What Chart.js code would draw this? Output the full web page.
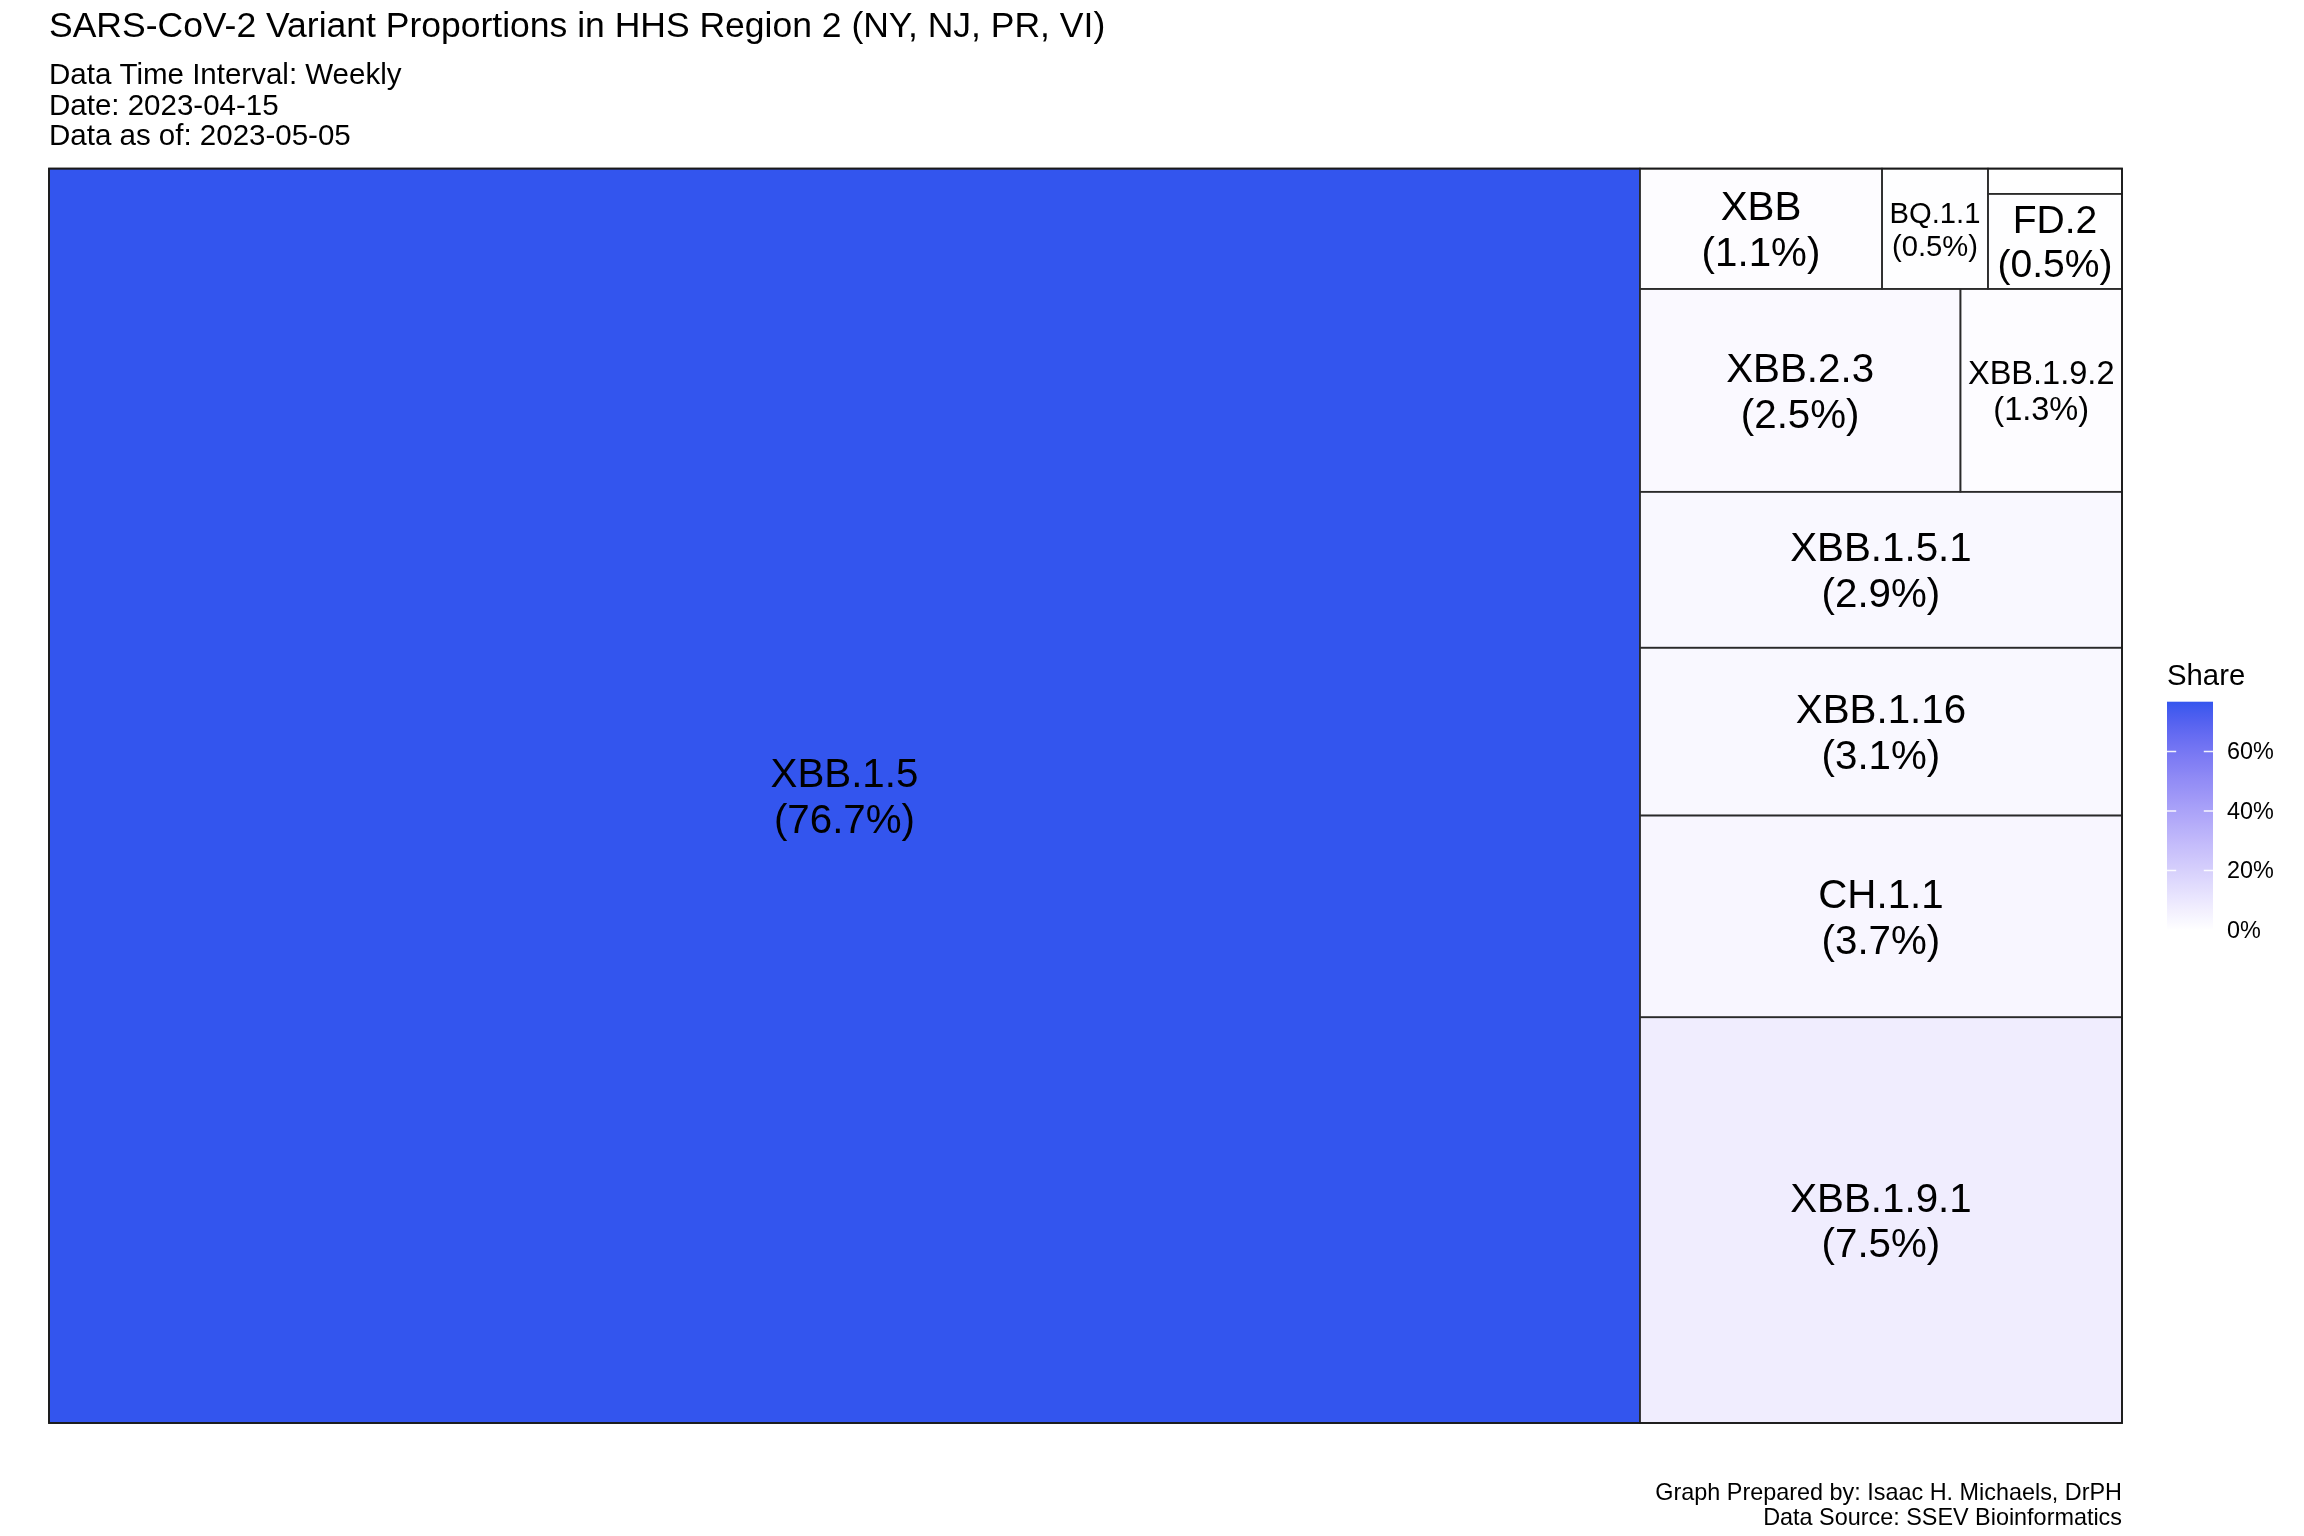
<!DOCTYPE html>
<html><head><meta charset="utf-8">
<script src="https://cdn.jsdelivr.net/npm/chart.js@4/dist/chart.umd.min.js"></script>
<style>html,body{margin:0;padding:0;background:#fff}canvas{display:block}</style>
</head><body>
<canvas id="c" width="2304" height="1536"></canvas>
<script>
// ---- data ----
const variants = ['XBB.1.5','XBB.1.9.1','CH.1.1','XBB.1.16','XBB.1.5.1','XBB.2.3','XBB.1.9.2','XBB','BQ.1.1','FD.2','Other'];
const shares   = [76.72, 7.52, 3.74, 3.11, 2.89, 2.50, 1.26, 1.12, 0.49, 0.49, 0.13];
const legendTicks = [0, 20, 40, 60];
const legendTitle = 'Share';
const titleText = 'SARS-CoV-2 Variant Proportions in HHS Region 2 (NY, NJ, PR, VI)';
const subtitleLines = ['Data Time Interval: Weekly', 'Date: 2023-04-15', 'Data as of: 2023-05-05'];
const captionLines = ['Graph Prepared by: Isaac H. Michaels, DrPH', 'Data Source: SSEV Bioinformatics'];
const LOW_COLOR = '#FFFFFF';
const HIGH_COLOR = '#3355EE';

const FONT = '"Liberation Sans", Arial, Helvetica, sans-serif';

// ---- colour (Lab interpolation, like ggplot2) ----
function hex2rgb(h){h=h.replace('#','');return [0,2,4].map(i=>parseInt(h.substr(i,2),16));}
function lin(c){c/=255;return c<=0.04045?c/12.92:Math.pow((c+0.055)/1.055,2.4);}
function unlin(c){const v=c<=0.0031308?12.92*c:1.055*Math.pow(c,1/2.4)-0.055;return Math.round(Math.max(0,Math.min(1,v))*255);}
const XN=0.95047,YN=1,ZN=1.08883;
function rgb2lab(rgb){const [R,G,B]=rgb.map(lin);
  const X=(0.4124564*R+0.3575761*G+0.1804375*B)/XN,Y=(0.2126729*R+0.7151522*G+0.0721750*B)/YN,Z=(0.0193339*R+0.1191920*G+0.9503041*B)/ZN;
  const f=t=>t>0.008856?Math.cbrt(t):7.787*t+16/116;
  const fx=f(X),fy=f(Y),fz=f(Z);return [116*fy-16,500*(fx-fy),200*(fy-fz)];}
function lab2rgb([L,a,b]){const fy=(L+16)/116,fx=fy+a/500,fz=fy-b/200;
  const fi=t=>t*t*t>0.008856?t*t*t:(t-16/116)/7.787;
  const X=fi(fx)*XN,Y=fi(fy)*YN,Z=fi(fz)*ZN;
  const R=3.2404542*X-1.5371385*Y-0.4985314*Z,G=-0.9692660*X+1.8760108*Y+0.0415560*Z,B=0.0556434*X-0.2040259*Y+1.0572252*Z;
  return [unlin(R),unlin(G),unlin(B)];}
const labLow=rgb2lab(hex2rgb(LOW_COLOR)), labHigh=rgb2lab(hex2rgb(HIGH_COLOR));
const maxShare = Math.max(...shares);
function fillFor(v){const t=Math.max(0,Math.min(1,v/maxShare));
  const lab=labLow.map((c,i)=>c+(labHigh[i]-c)*t);const [r,g,b]=lab2rgb(lab);return `rgb(${r},${g},${b})`;}

// ---- squarified layout in the unit square (as treemapify does) ----
function worst(row, side){const s=row.reduce((a,b)=>a+b,0);const len=s/side;let m=0;
  for(const v of row){const o=v/len;m=Math.max(m,len/o,o/len);}return m;}
function squarify(values){
  const total=values.reduce((a,b)=>a+b,0);
  const order=values.map((v,i)=>i).sort((a,b)=>values[b]-values[a]);
  const areas=order.map(i=>values[i]/total);
  const out=[];let x=0,y=0,w=1,h=1,i=0;
  while(i<areas.length){
    const side=(w>=h)?h:w;
    let row=[areas[i]],j=i+1,cur=worst(row,side);
    while(j<areas.length){const r=row.concat(areas[j]);const wr=worst(r,side);if(wr<=cur){row=r;cur=wr;j++;}else break;}
    const s=row.reduce((a,b)=>a+b,0);
    if(w>=h){const cw=s/h;let yy=y;row.forEach((v,k)=>{const ch=v/cw;out.push({idx:order[i+k],x0:x,x1:x+cw,y0:yy,y1:yy+ch});yy+=ch;});x+=cw;w-=cw;}
    else{const rh=s/w;let xx=x;row.forEach((v,k)=>{const cw=v/rh;out.push({idx:order[i+k],x0:xx,x1:xx+cw,y0:y,y1:y+rh});xx+=cw;});y+=rh;h-=rh;}
    i=j;
  }
  return out;
}

const cells = squarify(shares);

const treemapPlugin = {
  id:'treemap',
  afterDatasetsDraw(chart){
    const ctx=chart.ctx, xs=chart.scales.x, ys=chart.scales.y;
    ctx.save();
    for(const c of cells){
      const L=xs.getPixelForValue(c.x0),R=xs.getPixelForValue(c.x1),T=ys.getPixelForValue(c.y1),B=ys.getPixelForValue(c.y0);
      ctx.fillStyle=fillFor(shares[c.idx]);
      ctx.fillRect(L,T,R-L,B-T);
    }
    ctx.strokeStyle='#2a2a2a';ctx.lineWidth=1.6;
    for(const c of cells){
      const L=xs.getPixelForValue(c.x0),R=xs.getPixelForValue(c.x1),T=ys.getPixelForValue(c.y1),B=ys.getPixelForValue(c.y0);
      ctx.strokeRect(L,T,R-L,B-T);
    }
    const base=40.3, pad=7.5, minSize=10.6;
    ctx.fillStyle='#000';ctx.textAlign='center';ctx.textBaseline='alphabetic';
    for(const c of cells){
      const L=xs.getPixelForValue(c.x0),R=xs.getPixelForValue(c.x1),T=ys.getPixelForValue(c.y1),B=ys.getPixelForValue(c.y0);
      const lines=[variants[c.idx], '('+shares[c.idx].toFixed(1)+'%)'];
      ctx.font=`${base}px ${FONT}`;
      const wmax=Math.max(...lines.map(s=>ctx.measureText(s).width));
      let f=base;
      f=Math.min(f, base*(R-L-2*pad)/wmax);
      f=Math.min(f, (B-T-2*pad)/2.05);
      if(f<minSize) continue;
      ctx.font=`${f}px ${FONT}`;
      const cap=0.716*f, lh=1.13*f;
      const cx=(L+R)/2, cy=(T+B)/2;
      const b1=cy-(cap+lh)/2+cap;
      ctx.fillText(lines[0],cx,b1);
      ctx.fillText(lines[1],cx,b1+lh);
    }
    const a=chart.chartArea;
    ctx.strokeStyle='#1a1a1a';ctx.lineWidth=1.8;
    ctx.strokeRect(a.left,a.top,a.right-a.left,a.bottom-a.top);
    ctx.restore();
  },
  afterDraw(chart){
    const ctx=chart.ctx, a=chart.chartArea;
    ctx.save();
    const bx=a.right+45, bw=46, bTop=701.7, bBot=930;
    const vy=v=>bBot-(v/maxShare)*(bBot-bTop);
    const g=ctx.createLinearGradient(0,bBot,0,bTop);
    for(let k=0;k<=40;k++){g.addColorStop(k/40,fillFor(maxShare*k/40));}
    ctx.fillStyle=g;ctx.fillRect(bx,bTop,bw,bBot-bTop);
    ctx.strokeStyle='rgba(255,255,255,0.9)';ctx.lineWidth=1.5;
    ctx.font=`23.4px ${FONT}`;ctx.fillStyle='#000';ctx.textAlign='left';ctx.textBaseline='middle';
    for(const t of legendTicks){
      const y=vy(t);
      ctx.beginPath();ctx.moveTo(bx,y);ctx.lineTo(bx+9.2,y);ctx.moveTo(bx+bw-9.2,y);ctx.lineTo(bx+bw,y);ctx.stroke();
      ctx.fillText(t+'%',bx+bw+14,y+1.5);
    }
    ctx.font=`29.3px ${FONT}`;ctx.textBaseline='alphabetic';
    ctx.fillText(legendTitle,bx,685);
    ctx.font=`23.4px ${FONT}`;ctx.textAlign='right';
    ctx.fillText(captionLines[0],a.right,1500);
    ctx.fillText(captionLines[1],a.right,1524.5);
    ctx.restore();
  }
};

Chart.defaults.font.family=FONT;
Chart.defaults.color='#000';
new Chart(document.getElementById('c'),{
  type:'scatter',
  data:{datasets:[{label:'cells',data:cells.map(c=>({x:(c.x0+c.x1)/2,y:(c.y0+c.y1)/2})),pointRadius:0,pointHoverRadius:0}]},
  options:{
    responsive:false,animation:false,events:[],
    layout:{padding:{left:49,right:182,top:0,bottom:113}},
    scales:{
      x:{type:'linear',min:0,max:1,display:false},
      y:{type:'linear',min:0,max:1,display:false}
    },
    plugins:{
      legend:{display:false},tooltip:{enabled:false},
      title:{display:true,text:titleText,align:'start',color:'#000',font:{size:35.5,weight:'normal',lineHeight:1.2},padding:{top:5.5,bottom:0}},
      subtitle:{display:true,text:subtitleLines,align:'start',color:'#000',font:{size:29.5,weight:'normal',lineHeight:'30.5px'},padding:{top:13,bottom:16}}
    }
  },
  plugins:[treemapPlugin]
});
</script>
</body></html>
